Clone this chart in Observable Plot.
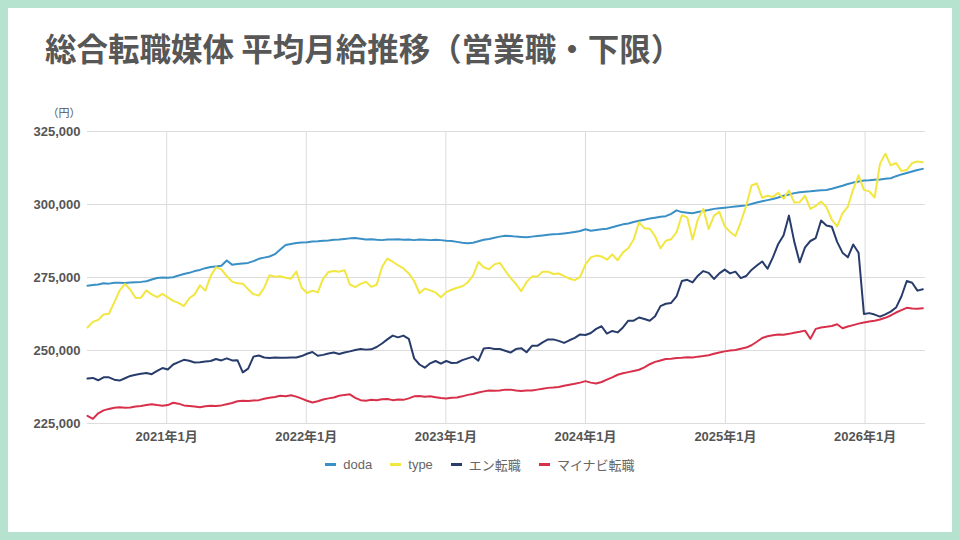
<!DOCTYPE html>
<html lang="ja">
<head>
<meta charset="utf-8">
<script src="https://cdn.jsdelivr.net/npm/d3@7"></script>
<script src="https://cdn.jsdelivr.net/npm/@observablehq/plot@0.6"></script>
<style>
  html, body { margin: 0; padding: 0; }
  body { width: 960px; height: 540px; background: #b6e3cf; position: relative; overflow: hidden;
         font-family: "Liberation Sans", "Noto Sans CJK JP", sans-serif; }
  #card { position: absolute; left: 8px; top: 8px; width: 944px; height: 524px; background: #fff; }
  #title { position: absolute; left: 45px; top: 31px; font-family: "Noto Sans CJK JP", sans-serif;
           font-weight: bold; font-size: 31.5px; line-height: 32px; color: #575757; white-space: nowrap; }
  #chart { position: absolute; left: 0; top: 95px; }
  #legend { position: absolute; left: 0; width: 960px; top: 455px; display: flex; justify-content: center;
            align-items: center; font-size: 13px; color: #666; height: 18px; }
  .item { display: flex; align-items: center; margin: 0 9px; }
  .swatch { width: 11px; height: 3px; margin-right: 7px; }
</style>
</head>
<body>
<div id="card"></div>
<div id="title"></div>
<div id="chart"></div>
<div id="legend"></div>
<script>
const titleText = "総合転職媒体 平均月給推移（営業職・下限）";
const unitLabel = "（円）";
const seriesNames = ["doda", "type", "エン転職", "マイナビ転職"];
const seriesColors = ["#3a90c6", "#f2e640", "#283c6c", "#d8304a"];
const yTicks = [225000, 250000, 275000, 300000, 325000];
const xTickYears = [2021, 2022, 2023, 2024, 2025, 2026];
const startDate = "2020-06-08";
const endDate = "2026-06-08";
const stepDays = 14;

const doda = [
272200,272400,272600,273000,272900,273200,273200,273100,273300,273400,
273500,273700,274300,274800,275000,274900,275100,275700,276200,276600,
277200,277600,278200,278600,278800,279000,280800,279400,279600,279800,
280000,280600,281400,281800,282200,283000,284600,286100,286500,286800,
287000,287100,287300,287400,287600,287700,287900,288000,288200,288400,
288500,288300,288000,288100,287900,287800,288000,288000,288100,287900,
288000,287800,288000,287900,287800,287900,287800,287600,287500,287200,
286900,286700,286900,287400,287900,288200,288600,289000,289300,289200,
289000,288900,288800,289000,289200,289400,289600,289800,289900,290100,
290300,290600,290900,291500,291000,291300,291500,291700,292200,292700,
293200,293500,294000,294400,294800,295200,295500,295800,296000,296800,
298000,297400,297200,297000,297400,297800,298100,298500,298700,298900,
299100,299300,299500,299700,300200,300700,301100,301500,301900,302400,
303000,303400,303900,304200,304400,304500,304700,304900,305000,305400,
305900,306400,307000,307500,307900,308200,308300,308500,308600,308800,
309000,309700,310300,310800,311300,311800,312200];

const type = [
257900,259800,260500,262300,262600,266500,270500,272800,270800,268000,
268100,270600,269200,268300,269400,268200,267000,266300,265200,267900,
269200,272300,270500,275500,278500,277800,275500,273600,273000,272900,
271000,269300,268800,271500,275800,275300,275400,274900,274600,277000,
271500,269700,270500,269900,274500,276900,277200,277000,277500,272600,
271700,272800,273500,271800,272500,278600,281500,280400,279200,278100,
276400,273800,269600,271200,270600,269900,268200,270000,270800,271500,
272000,273300,275600,280300,278500,277800,279500,280000,277400,274900,
272800,270300,273500,275300,275300,277000,277000,276200,276400,275500,
274600,274100,275200,279500,281900,282500,282200,281100,282900,280900,
283600,285000,288000,293900,291900,291700,289200,285000,287600,288100,
290500,296300,295600,288000,295000,298500,291600,296200,297500,292600,
290600,289200,294000,299500,306500,307200,302300,303000,302600,304000,
302000,304800,300700,300800,303000,298500,299500,301000,299100,294800,
292500,297000,299300,305200,310000,305000,304500,302400,314000,317400,
313400,314200,311500,311800,314200,314700,314500];

const enTenshoku = [
240400,240600,239800,240800,240800,240000,239700,240500,241300,241700,
242000,242300,241900,243000,244000,243500,245200,246000,246800,246500,
245900,246000,246200,246400,247100,246600,247300,246600,246700,242500,
243800,247900,248300,247600,247400,247600,247500,247500,247600,247600,
248100,248900,249500,248200,248500,249000,249300,248800,249300,249700,
250200,250500,250300,250400,251200,252400,253800,255100,254500,255100,
254000,247300,245200,244100,245600,246400,245500,246400,245700,245800,
246700,247300,247900,246500,250700,250900,250500,250500,249900,249300,
250500,250800,249400,251600,251600,252800,253800,253800,253300,252600,
253500,254300,255500,255300,256000,257400,258300,255800,256700,256200,
257900,260200,260200,261300,260800,260200,261700,265200,266000,266300,
268500,273800,274200,273300,275600,277200,276600,274500,276400,277700,
276400,277000,274800,275500,277600,279100,280500,278000,281900,286500,
289500,296200,287200,280200,285300,287500,288500,294500,292800,292400,
287200,283500,281900,286300,283500,262500,262800,262300,261600,262400,
263300,264700,268500,273800,273200,270500,271000];

const mynavi = [
227600,226600,228500,229500,230000,230400,230600,230400,230500,230800,
231000,231300,231600,231300,231100,231300,232100,231800,231200,231000,
230800,230600,230900,231100,231000,231200,231600,232000,232600,232800,
232700,232900,233000,233500,233800,234100,234500,234300,234700,234200,
233500,232800,232200,232600,233200,233600,233900,234500,234800,235000,
233800,233000,232800,233100,233000,233300,233400,233000,233200,233100,
233600,234300,234400,234200,234300,234000,233700,233600,233800,233900,
234300,234800,235100,235600,236000,236300,236200,236300,236600,236600,
236300,236100,236300,236300,236600,236900,237200,237300,237500,237900,
238300,238600,239000,239500,239000,238700,239200,240000,240800,241700,
242200,242600,243000,243400,244200,245300,246100,246600,247100,247200,
247400,247500,247700,247600,247900,248100,248400,248900,249300,249700,
250000,250200,250600,251000,251800,253000,254300,254900,255200,255500,
255400,255700,256100,256400,256800,254000,257400,257900,258100,258400,
259000,257600,258200,258700,259200,259600,259900,260200,260600,261200,
262000,263000,263800,264600,264400,264300,264500];

const seriesValues = [doda, type, enTenshoku, mynavi];

const start = new Date(startDate + "T00:00:00Z");
const end = new Date(endDate + "T00:00:00Z");
const dates = doda.map((_, i) => d3.utcDay.offset(start, stepDays * i));
const table = seriesNames.flatMap((name, s) =>
  seriesValues[s].map((v, i) => ({date: dates[i], value: v, series: name})));
const xTicks = xTickYears.map(y => new Date(Date.UTC(y, 0, 1)));

document.getElementById("title").textContent = titleText;

const gridColor = "#dcdcdc";
const font = "'Liberation Sans', 'Noto Sans CJK JP', sans-serif";

const chart = Plot.plot({
  width: 960,
  height: 355,
  marginLeft: 87,
  marginRight: 35,
  marginTop: 36,
  marginBottom: 27,
  style: {fontFamily: font, fontSize: "13px", color: "#555", background: "transparent"},
  x: {type: "utc", domain: [start, end]},
  y: {domain: [225000, 325000]},
  color: {domain: seriesNames, range: seriesColors},
  marks: [
    Plot.gridY(yTicks, {stroke: gridColor, strokeOpacity: 1, strokeWidth: 1}),
    Plot.gridX(xTicks, {stroke: gridColor, strokeOpacity: 1, strokeWidth: 1}),
    Plot.axisY(yTicks, {tickSize: 0, tickPadding: 7, tickFormat: d3.format(","), fontSize: 13, fontWeight: "bold", label: null}),
    Plot.axisX(xTicks, {tickSize: 0, tickPadding: 8, tickFormat: d => `${d.getUTCFullYear()}年1月`, fontSize: 13, fontWeight: "bold", label: null}),
    Plot.line(table, {x: "date", y: "value", z: "series", stroke: "series", strokeWidth: 2, strokeLinejoin: "round"}),
    Plot.text([unitLabel], {text: d => d, frameAnchor: "top-left", dx: -7, dy: -22, textAnchor: "end", fontSize: 11, fill: "#555"})
  ]
});
document.getElementById("chart").appendChild(chart);

const legend = document.getElementById("legend");
seriesNames.forEach((name, i) => {
  const item = document.createElement("div");
  item.className = "item";
  const sw = document.createElement("span");
  sw.className = "swatch";
  sw.style.background = seriesColors[i];
  const label = document.createElement("span");
  label.textContent = name;
  item.appendChild(sw);
  item.appendChild(label);
  legend.appendChild(item);
});
</script>
</body>
</html>
